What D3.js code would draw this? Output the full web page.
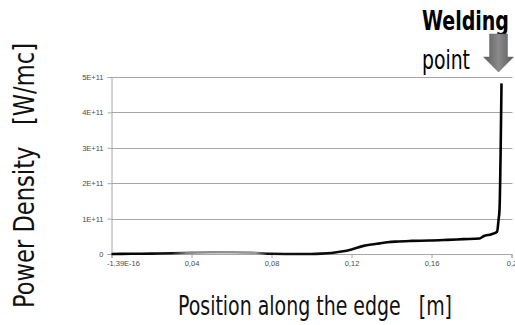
<!DOCTYPE html>
<html>
<head>
<meta charset="utf-8">
<script src="https://cdn.jsdelivr.net/npm/d3@7"></script>
<style>
  html, body { margin: 0; padding: 0; background: #fff; }
  svg { display: block; }
  .title { white-space: pre; }
</style>
</head>
<body>
<svg id="chart" width="515" height="325"></svg>
<script>
// Position along the edge [m]
const positions = [0, 0.01, 0.02, 0.03, 0.04, 0.05, 0.06, 0.07, 0.075, 0.08, 0.09, 0.1,
  0.105, 0.11, 0.115, 0.12, 0.126, 0.13, 0.134, 0.138, 0.142, 0.15, 0.159, 0.168,
  0.176, 0.184, 0.186, 0.19, 0.1928, 0.1935, 0.194, 0.195];
// Power density [W/mc]
const powerDensity = [0, 0.005e11, 0.01e11, 0.02e11, 0.04e11, 0.05e11, 0.05e11, 0.04e11,
  0.02e11, 0.005e11, 0, 0, 0.01e11, 0.03e11, 0.07e11, 0.13e11, 0.23e11, 0.27e11,
  0.30e11, 0.33e11, 0.35e11, 0.37e11, 0.38e11, 0.40e11, 0.42e11, 0.44e11, 0.50e11,
  0.56e11, 0.63e11, 0.95e11, 1.24e11, 4.82e11];

const xTickValues = [0, 0.04, 0.08, 0.12, 0.16, 0.2];
const xTickLabels = ["-1,39E-16", "0,04", "0,08", "0,12", "0,16", "0,2"];
const yTickValues = [0, 1e11, 2e11, 3e11, 4e11, 5e11];
const yTickLabels = ["0", "1E+11", "2E+11", "3E+11", "4E+11", "5E+11"];

const svg = d3.select("#chart");
const plot = { left: 111.5, right: 511.5, top: 77, bottom: 254 };

const x = d3.scaleLinear().domain([0, 0.2]).range([plot.left, plot.right]);
const y = d3.scaleLinear().domain([0, 5e11]).range([plot.bottom, plot.top]);

const condensed = "'DejaVu Sans Condensed', 'Liberation Sans Narrow', 'Roboto', sans-serif";
const tickFont = "'Liberation Sans', Arial, sans-serif";

// horizontal gridlines
svg.append("g")
  .selectAll("line")
  .data(yTickValues.slice(1))
  .join("line")
  .attr("x1", plot.left).attr("x2", plot.right + 1)
  .attr("y1", d => Math.round(y(d)) + 0.5).attr("y2", d => Math.round(y(d)) + 0.5)
  .attr("stroke", "#a6a6a6").attr("stroke-width", 1);

// y axis
const yAxis = svg.append("g")
  .attr("transform", `translate(${plot.left},0)`)
  .call(d3.axisLeft(y).tickValues(yTickValues)
    .tickFormat((d, i) => yTickLabels[i]).tickSize(4).tickPadding(4));
yAxis.select(".domain").attr("stroke", "#a6a6a6");
yAxis.selectAll(".tick line").attr("stroke", "#a6a6a6");
yAxis.selectAll("text")
  .attr("font-family", tickFont).attr("font-size", 7.5).attr("fill", "#4a4a4a");

// x axis
const xAxis = svg.append("g")
  .attr("transform", `translate(0,${plot.bottom})`)
  .call(d3.axisBottom(x).tickValues(xTickValues)
    .tickFormat((d, i) => xTickLabels[i]).tickSize(4).tickPadding(3));
xAxis.select(".domain").attr("stroke", "#a6a6a6");
xAxis.selectAll(".tick line").attr("stroke", "#a6a6a6");
xAxis.selectAll("text")
  .attr("font-family", tickFont).attr("font-size", 7.5).attr("fill", "#4a4a4a");
xAxis.selectAll(".tick text").filter((d, i) => i === 0)
  .attr("text-anchor", "start").attr("dx", -5);

// stroke fades to grey over the low plateau near 0.04-0.07 m
const defs = svg.append("defs");
const grad = defs.append("linearGradient")
  .attr("id", "traceGrad").attr("gradientUnits", "userSpaceOnUse")
  .attr("x1", x(0)).attr("x2", x(0.2)).attr("y1", 0).attr("y2", 0);
[[0, "#000"], [0.15, "#111"], [0.19, "#888"], [0.36, "#999"], [0.39, "#111"], [1, "#000"]]
  .forEach(([o, c]) => grad.append("stop").attr("offset", o).attr("stop-color", c));

const data = positions.map((p, i) => [p, powerDensity[i]]);
const line = d3.line().x(d => x(d[0])).y(d => y(d[1])).curve(d3.curveMonotoneX);
svg.append("path")
  .datum(data)
  .attr("d", line)
  .attr("fill", "none")
  .attr("stroke", "url(#traceGrad)")
  .attr("stroke-width", 2.6)
  .attr("stroke-linejoin", "round");

// axis titles
svg.append("text")
  .attr("class", "title")
  .attr("x", 178).attr("y", 315)
  .attr("font-family", condensed).attr("font-size", 27)
  .attr("textLength", 274).attr("lengthAdjust", "spacingAndGlyphs")
  .attr("fill", "#111")
  .text("Position along the edge   [m]");

svg.append("text")
  .attr("class", "title")
  .attr("transform", "translate(34,308) rotate(-90)")
  .attr("font-family", condensed).attr("font-size", 29)
  .attr("textLength", 265).attr("lengthAdjust", "spacingAndGlyphs")
  .attr("fill", "#111")
  .text("Power Density   [W/mc]");

// welding point annotation
svg.append("text")
  .attr("x", 422).attr("y", 30)
  .attr("font-family", condensed).attr("font-size", 26).attr("font-weight", "bold")
  .attr("textLength", 87).attr("lengthAdjust", "spacingAndGlyphs")
  .attr("fill", "#000")
  .text("Welding");
svg.append("text")
  .attr("x", 422).attr("y", 69)
  .attr("font-family", condensed).attr("font-size", 27)
  .attr("textLength", 48).attr("lengthAdjust", "spacingAndGlyphs")
  .attr("fill", "#000")
  .text("point");

const arrowGrad = defs.append("linearGradient")
  .attr("id", "arrowGrad").attr("x1", 0).attr("x2", 1).attr("y1", 0).attr("y2", 0);
[[0, "#5a5a5a"], [0.5, "#8a8a8a"], [1, "#5a5a5a"]]
  .forEach(([o, c]) => arrowGrad.append("stop").attr("offset", o).attr("stop-color", c));

const ax = x(0.195) - 3; // arrow centre above the peak
svg.append("path")
  .attr("d", `M${ax - 9},34 L${ax + 9},34 L${ax + 9},57 L${ax + 15},57 L${ax},72 L${ax - 15},57 L${ax - 9},57 Z`)
  .attr("fill", "url(#arrowGrad)")
  .attr("stroke", "#6a6a6a").attr("stroke-width", 0.5);
</script>
</body>
</html>
